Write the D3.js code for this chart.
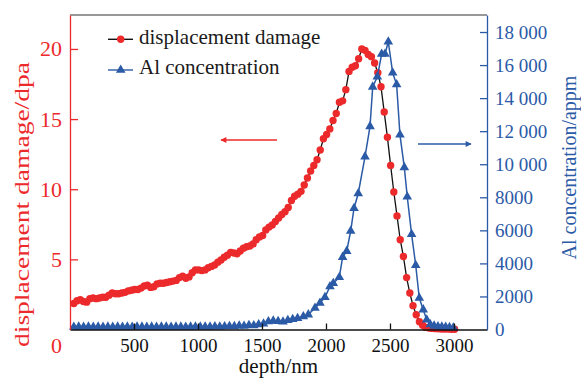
<!DOCTYPE html>
<html>
<head>
<meta charset="utf-8">
<script src="https://cdn.jsdelivr.net/npm/d3@7/dist/d3.min.js"></script>
<style>
  body { margin: 0; background: #fff; }
  text { font-family: "Liberation Serif", "Times New Roman", serif; }
</style>
</head>
<body>
<svg id="chart"></svg>
<script>
// displacement damage (dpa) vs depth (nm)
var damageDepth = [30, 55, 80, 105, 130, 155, 180, 205, 230, 255, 280, 305, 330, 355, 380, 405, 430, 455, 480, 505,
  530, 555, 580, 605, 630, 655, 680, 705, 730, 755, 780, 805, 830, 855, 880, 905, 930, 955, 980, 1005,
  1030, 1055, 1080, 1105, 1130, 1155, 1180, 1205, 1230, 1255, 1280, 1305, 1330, 1355, 1380, 1405, 1430, 1455, 1480, 1505,
  1530, 1555, 1580, 1605, 1630, 1655, 1680, 1705, 1730, 1755, 1780, 1805, 1830, 1855, 1880, 1905, 1930, 1955, 1980, 2005,
  2030, 2055, 2080, 2105, 2130, 2155, 2180, 2205, 2230, 2255, 2280, 2305, 2330, 2355, 2380, 2405, 2430, 2455, 2480, 2505,
  2530, 2555, 2580, 2605, 2630, 2655, 2680, 2705, 2730, 2755, 2780, 2805, 2830, 2855, 2880, 2905, 2930, 2955, 2980, 3005];
var damageDpa = [1.85, 2.05, 2.12, 2.0, 1.95, 2.2, 2.25, 2.2, 2.25, 2.3, 2.3, 2.45, 2.6, 2.55, 2.55, 2.6, 2.65, 2.75, 2.8, 2.85,
  2.85, 2.95, 3.1, 3.15, 3.0, 3.05, 3.25, 3.3, 3.3, 3.35, 3.4, 3.45, 3.5, 3.7, 3.8, 3.65, 3.75, 4.05, 4.25, 4.25,
  4.2, 4.25, 4.4, 4.5, 4.6, 4.8, 4.95, 5.15, 5.3, 5.5, 5.45, 5.4, 5.6, 5.8, 5.9, 5.95, 6.1, 6.4, 6.6, 6.7,
  7.1, 7.3, 7.45, 7.7, 7.95, 8.2, 8.4, 8.7, 9.2, 9.5, 9.65, 9.85, 10.3, 10.8, 11.3, 11.7, 12.1, 12.8, 13.6, 13.9,
  14.3, 14.9, 15.4, 16.2, 16.3, 17.1, 18.4, 18.7, 18.8, 19.3, 20.0, 19.9, 19.6, 19.45, 19.0, 18.3, 17.3, 15.5, 13.7, 11.7,
  9.8, 8.1, 6.4, 5.2, 3.7, 2.6, 1.7, 1.05, 0.55, 0.3, 0.15, 0.1, 0.08, 0.06, 0.05, 0.04, 0.03, 0.03, 0.02, 0.02];

// Al concentration (appm) vs depth (nm)
var alDepth = [30, 68, 106, 144, 182, 220, 258, 296, 334, 372, 410, 448, 486, 524, 562, 600, 638, 676, 714, 752,
  790, 828, 866, 904, 942, 980, 1018, 1056, 1094, 1132, 1170, 1208, 1246, 1284, 1322, 1360, 1398, 1436, 1474, 1512,
  1550, 1588, 1626, 1664, 1702, 1740, 1778, 1823, 1862, 1914, 1953, 1992, 2031, 2057, 2104, 2130, 2162, 2193, 2219, 2252,
  2305, 2344, 2365, 2401, 2435, 2461, 2487, 2521, 2552, 2578, 2612, 2635, 2669, 2701, 2729, 2760, 2787, 2815, 2845, 2875,
  2905, 2935, 2965, 2995];
var alAppm = [150, 160, 150, 160, 150, 160, 150, 160, 150, 160, 150, 160, 150, 160, 160, 150, 160, 150, 160, 160,
  150, 160, 160, 150, 160, 170, 160, 170, 160, 180, 170, 180, 200, 190, 230, 210, 260, 240, 300, 350,
  480, 520, 500, 470, 560, 620, 680, 790, 900, 1300, 1600, 1950, 2600, 2800, 3160, 4380, 4740, 5960, 7340, 8230,
  10460, 12290, 14680, 15290, 16670, 16670, 17410, 15530, 14820, 11780, 9810, 8030, 5760, 3890, 1900, 1200, 590, 300, 220, 180,
  160, 150, 130, 110];

var xTicks = [500, 1000, 1500, 2000, 2500, 3000];
var leftTicks = [0, 5, 10, 15, 20];
var rightTicks = [0, 2000, 4000, 6000, 8000, 10000, 12000, 14000, 16000, 18000];
var legendNames = ["displacement damage", "Al concentration"];

var RED = "#ec2a2c", BLUE = "#2b5aa6";
var width = 581, height = 379;
var margin = { top: 15, right: 94, bottom: 49.5, left: 70 };

var svg = d3.select("#chart").attr("width", width).attr("height", height);
svg.append("rect").attr("width", width).attr("height", height).attr("fill", "#fff");

var x = d3.scaleLinear().domain([0, 3258]).range([margin.left, width - margin.right]);
var yL = d3.scaleLinear().domain([0, 22.42]).range([height - margin.bottom, margin.top]);
var yR = d3.scaleLinear().domain([0, 19030]).range([height - margin.bottom, margin.top]);

var damage = damageDepth.map(function (d, i) { return { d: d, v: damageDpa[i] }; });
var al = alDepth.map(function (d, i) { return { d: d, v: alAppm[i] }; });

// top frame line
svg.append("line")
  .attr("x1", x.range()[0]).attr("x2", x.range()[1])
  .attr("y1", margin.top).attr("y2", margin.top)
  .attr("stroke", "#333").attr("stroke-width", 1.2);

// series: damage
var lineL = d3.line().x(function (p) { return x(p.d); }).y(function (p) { return yL(p.v); });
svg.append("path").datum(damage).attr("d", lineL)
  .attr("fill", "none").attr("stroke", "#111").attr("stroke-width", 1.3);
svg.selectAll(".dot").data(damage).enter().append("circle")
  .attr("class", "dot")
  .attr("cx", function (p) { return x(p.d); })
  .attr("cy", function (p) { return yL(p.v); })
  .attr("r", 3.7).attr("fill", RED);

// series: Al
var lineR = d3.line().x(function (p) { return x(p.d); }).y(function (p) { return yR(p.v); });
svg.append("path").datum(al).attr("d", lineR)
  .attr("fill", "none").attr("stroke", BLUE).attr("stroke-width", 1.5);
var tri = d3.symbol().type(d3.symbolTriangle).size(40);
svg.selectAll(".tri").data(al).enter().append("path")
  .attr("class", "tri")
  .attr("d", tri)
  .attr("transform", function (p) { return "translate(" + x(p.d) + "," + yR(p.v) + ")"; })
  .attr("fill", BLUE);

// axes
var gx = svg.append("g").attr("transform", "translate(0," + (height - margin.bottom) + ")")
  .call(d3.axisBottom(x).tickValues(xTicks).tickFormat(d3.format("d"))
    .tickSizeInner(-6).tickSizeOuter(0).tickPadding(9));
gx.selectAll("path, line").attr("stroke", "#111").attr("stroke-width", 1.3);
gx.selectAll("text").attr("fill", "#111").style("font-size", "19px");

var gl = svg.append("g").attr("transform", "translate(" + margin.left + ",0)")
  .call(d3.axisLeft(yL).tickValues(leftTicks).tickSizeInner(-8).tickSizeOuter(0).tickPadding(8));
gl.selectAll("path, line").attr("stroke", RED).attr("stroke-width", 1.3);
gl.selectAll("text").attr("fill", RED).style("font-size", "22px");
gl.selectAll(".tick").filter(function (d) { return d === 0; })
  .select("text").attr("dy", "1.05em");
gl.selectAll(".tick").filter(function (d) { return d === 0; }).select("line").remove();

var fmtR = function (v) { return v >= 10000 ? d3.format(",")(v).replace(",", " ") : String(v); };
var gr = svg.append("g").attr("transform", "translate(" + (width - margin.right) + ",0)")
  .call(d3.axisRight(yR).tickValues(rightTicks).tickFormat(fmtR).tickSizeInner(-7).tickSizeOuter(0).tickPadding(8));
gr.selectAll("path, line").attr("stroke", BLUE).attr("stroke-width", 1.3);
gr.selectAll("text").attr("fill", BLUE).style("font-size", "19px");
gr.selectAll(".tick").filter(function (d) { return d === 0; }).select("line").remove();

// axis titles
svg.append("text").attr("transform", "translate(29,204.5) rotate(-90)")
  .attr("text-anchor", "middle").attr("fill", RED).style("font-size", "22px")
  .attr("textLength", 285).attr("lengthAdjust", "spacingAndGlyphs")
  .text("displacement damage/dpa");
svg.append("text").attr("transform", "translate(576,167.5) rotate(-90)")
  .attr("text-anchor", "middle").attr("fill", BLUE).style("font-size", "20px")
  .text("Al concentration/appm");
svg.append("text").attr("x", (x.range()[0] + x.range()[1]) / 2).attr("y", 373)
  .attr("text-anchor", "middle").attr("fill", "#111").style("font-size", "21px")
  .text("depth/nm");

// legend
var lg = svg.append("g");
[39.3, 70].forEach(function (ly, i) {
  lg.append("line").attr("x1", 108).attr("x2", 133).attr("y1", ly).attr("y2", ly)
    .attr("stroke", i === 0 ? "#111" : BLUE).attr("stroke-width", 1.4);
  if (i === 0) {
    lg.append("circle").attr("cx", 120.7).attr("cy", ly).attr("r", 3.7).attr("fill", RED);
  } else {
    lg.append("path").attr("d", tri).attr("transform", "translate(120.7," + ly + ")").attr("fill", BLUE);
  }
  lg.append("text").attr("x", 139).attr("y", ly + 4.2).attr("fill", "#1a1a1a")
    .style("font-size", "21px").text(legendNames[i]);
});

// arrows
var defs = svg.append("defs");
[["arR", RED], ["arB", BLUE]].forEach(function (m) {
  defs.append("marker").attr("id", m[0]).attr("viewBox", "0 0 10 10")
    .attr("refX", 9).attr("refY", 5).attr("markerWidth", 7).attr("markerHeight", 6)
    .attr("markerUnits", "userSpaceOnUse").attr("orient", "auto")
    .append("path").attr("d", "M0,0 L10,5 L0,10 Z").attr("fill", m[1]);
});
svg.append("line").attr("x1", 277).attr("x2", 221).attr("y1", 140).attr("y2", 140)
  .attr("stroke", RED).attr("stroke-width", 1.5).attr("marker-end", "url(#arR)");
svg.append("line").attr("x1", 418).attr("x2", 471).attr("y1", 144).attr("y2", 144)
  .attr("stroke", BLUE).attr("stroke-width", 1.5).attr("marker-end", "url(#arB)");
</script>
</body>
</html>
